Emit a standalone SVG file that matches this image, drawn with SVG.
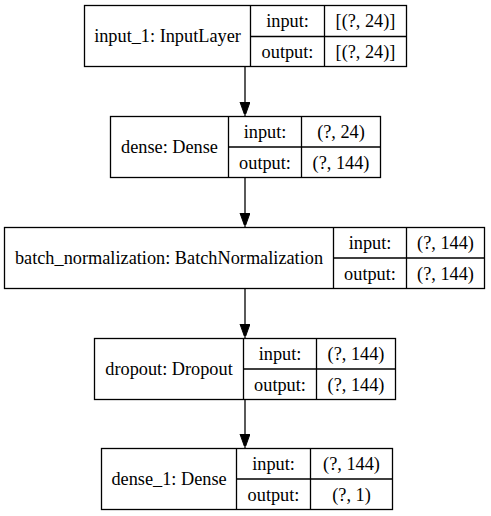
<svg xmlns="http://www.w3.org/2000/svg" width="491" height="516" viewBox="0 0 491 516">
<style>
.box{fill:#fff;stroke:#000;stroke-width:1.3}
.ln{stroke:#000;stroke-width:1.3;fill:none}
</style>
<defs>
<marker id="ah" markerUnits="userSpaceOnUse" markerWidth="12" markerHeight="16" refX="14" refY="5" orient="auto">
<path d="M0,0 L14,5 L0,10 Z" fill="#000" stroke="#000" stroke-width="1"/>
</marker>
</defs>
<rect width="491" height="516" fill="#fff"/>
<g id="connectors">
<line class="ln" x1="245" y1="66.5" x2="245" y2="116" marker-end="url(#ah)"/>
<line class="ln" x1="245" y1="177.5" x2="245" y2="227" marker-end="url(#ah)"/>
<line class="ln" x1="245" y1="288.5" x2="245" y2="338" marker-end="url(#ah)"/>
<line class="ln" x1="245" y1="399.5" x2="245" y2="448" marker-end="url(#ah)"/>
</g>
<g font-family="Liberation Serif, Times New Roman, serif" font-size="18.3" fill="#000" text-anchor="middle">
<g id="input_1">
<rect class="box" x="84.5" y="5.5" width="322" height="61"/>
<path class="ln" d="M250.5,5.5V66.5M324.5,5.5V66.5M250.5,36.5H406.5"/>
<text x="167.5" y="42">input_1: InputLayer</text>
<text x="287.5" y="27">input:</text>
<text x="287.5" y="57.5">output:</text>
<text x="365.5" y="27">[(?, 24)]</text>
<text x="365.5" y="57.5">[(?, 24)]</text>
</g>
<g id="dense">
<rect class="box" x="110.5" y="116.5" width="270" height="61"/>
<path class="ln" d="M228.5,116.5V177.5M301.5,116.5V177.5M228.5,147H380.5"/>
<text x="169.5" y="153">dense: Dense</text>
<text x="265" y="138">input:</text>
<text x="265" y="168.5">output:</text>
<text x="341" y="138">(?, 24)</text>
<text x="341" y="168.5">(?, 144)</text>
</g>
<g id="batch_normalization">
<rect class="box" x="4.5" y="227.5" width="480" height="61"/>
<path class="ln" d="M333.5,227.5V288.5M406.5,227.5V288.5M333.5,258H484.5"/>
<text x="169" y="264">batch_normalization: BatchNormalization</text>
<text x="370" y="249">input:</text>
<text x="370" y="279.5">output:</text>
<text x="445.5" y="249">(?, 144)</text>
<text x="445.5" y="279.5">(?, 144)</text>
</g>
<g id="dropout">
<rect class="box" x="94.5" y="338.5" width="301" height="61"/>
<path class="ln" d="M243.5,338.5V399.5M316.5,338.5V399.5M243.5,369H395.5"/>
<text x="169" y="375">dropout: Dropout</text>
<text x="280" y="360">input:</text>
<text x="280" y="390.5">output:</text>
<text x="356" y="360">(?, 144)</text>
<text x="356" y="390.5">(?, 144)</text>
</g>
<g id="dense_1">
<rect class="box" x="101.5" y="448.5" width="291" height="61"/>
<path class="ln" d="M236.5,448.5V509.5M310.5,448.5V509.5M236.5,479H392.5"/>
<text x="169" y="485">dense_1: Dense</text>
<text x="273.5" y="470">input:</text>
<text x="273.5" y="500.5">output:</text>
<text x="351.5" y="470">(?, 144)</text>
<text x="351.5" y="500.5">(?, 1)</text>
</g>
</g>
</svg>
